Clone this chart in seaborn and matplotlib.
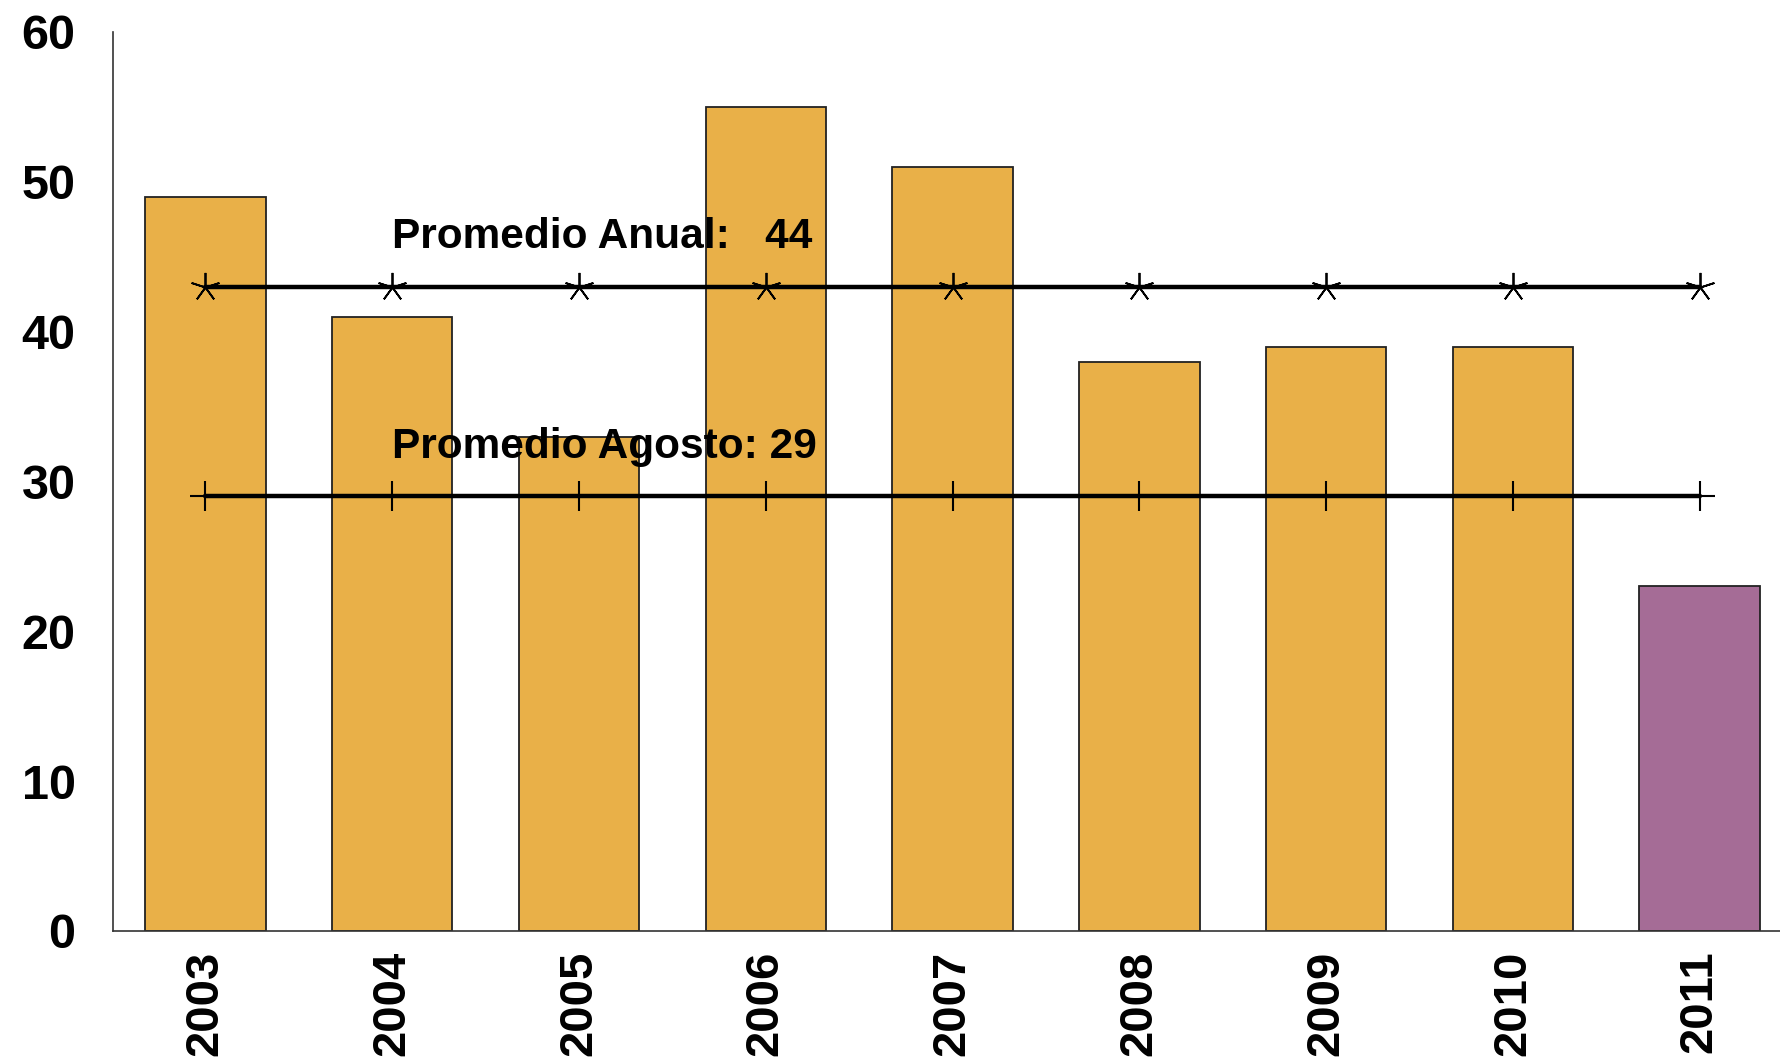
import numpy as np
import pandas as pd
import seaborn as sns
import matplotlib
matplotlib.use("Agg")
import matplotlib.pyplot as plt

years = ["2003", "2004", "2005", "2006", "2007", "2008", "2009", "2010", "2011"]
values = [49, 41, 33, 55, 51, 38, 39, 39, 23]
bar_colors = ["#E9B048"] * 8 + ["#A56C96"]
prom_anual = 43
prom_agosto = 29
label_anual = "Promedio Anual:   44"
label_agosto = "Promedio Agosto: 29"

sns.set_style("white")
plt.rcParams["font.family"] = ["Liberation Sans", "DejaVu Sans"]
plt.rcParams["text.color"] = "black"
plt.rcParams["xtick.color"] = "black"
plt.rcParams["ytick.color"] = "black"

df = pd.DataFrame({"year": years, "value": values})

fig = plt.figure(figsize=(17.8, 10.59), dpi=100)
ax = fig.add_axes([0.0635, 0.1209, 0.9365, 0.8489])

sns.barplot(data=df, x="year", y="value", hue="year", palette=bar_colors,
            legend=False, width=0.645, edgecolor="#222222", linewidth=1.3,
            saturation=1, ax=ax)

pos = np.arange(len(years))
ax.plot(pos, [prom_anual] * len(pos), color="black", lw=3.2, zorder=5,
        marker=(5, 2, 0), ms=21, mew=1.3, mec="black")
ax.plot(pos, [prom_agosto] * len(pos), color="black", lw=3.2, zorder=5,
        marker="+", ms=21, mew=1.5, mec="black")

ax.text(1.0, 45.6, label_anual, fontsize=30.5, fontweight="bold", zorder=6)
ax.text(1.0, 31.6, label_agosto, fontsize=30.5, fontweight="bold", zorder=6)

ax.set_xlim(-0.495, 8.43)
ax.set_ylim(0, 60)
ax.set_yticks([0, 10, 20, 30, 40, 50, 60])
ax.set_xlabel("")
ax.set_ylabel("")
ax.tick_params(axis="y", length=0, pad=27, labelsize=35)
ax.tick_params(axis="x", length=0, pad=14, labelsize=34, labelrotation=90)
for lab in ax.get_xticklabels() + ax.get_yticklabels():
    lab.set_fontweight("bold")

for s in ["top", "right"]:
    ax.spines[s].set_visible(False)
for s in ["left", "bottom"]:
    ax.spines[s].set_color("#333333")
    ax.spines[s].set_linewidth(1.2)

fig.savefig("out.png", dpi=100)
